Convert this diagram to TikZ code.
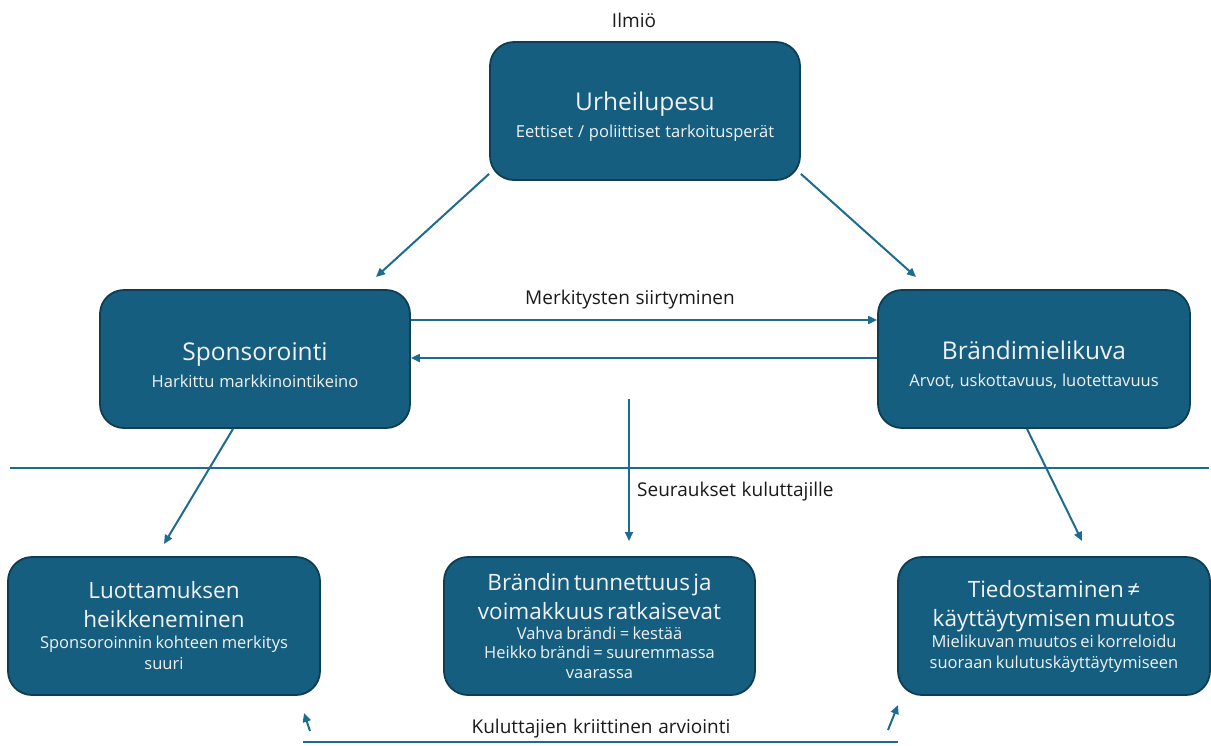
\documentclass[tikz,border=0pt]{standalone}
\usepackage{fontspec}
\setmainfont[WordSpace=1.15]{Open Sans}
\usetikzlibrary{arrows.meta}
\definecolor{boxfill}{HTML}{165E80}
\definecolor{boxline}{HTML}{0F3D52}
\definecolor{arrowc}{HTML}{1E6B90}
\definecolor{boxtext}{HTML}{F2F2F2}
\definecolor{labeltext}{HTML}{1A1A1A}
\newcommand{\ttlf}{\fontsize{24.5}{29}\selectfont}
\newcommand{\ttlb}{\fontsize{22.5}{29}\selectfont}
\newcommand{\subf}{\fontsize{16.5}{21}\selectfont}
\tikzset{
  card/.style={draw=boxline, line width=1.8pt, fill=boxfill, rounded corners=24pt,
    minimum height=138pt, text=boxtext, align=center, inner sep=4pt},
  topcard/.style={card, font=\subf},
  conn/.style={draw=arrowc, line width=2pt, -{Triangle[length=9pt,width=8pt]}},
  plain/.style={draw=arrowc, line width=2pt},
  lbl/.style={text=labeltext, font=\fontsize{19}{23}\selectfont, inner sep=0pt},
}
\begin{document}
\begin{tikzpicture}[x=1pt,y=-1pt]
\useasboundingbox (0,0) rectangle (1211,745);

\node[lbl] (ilmio) at (634,20) {Ilmiö};

\node[topcard, minimum width=310pt] (top) at (645,111)
  {\rule{0pt}{30pt}{\ttlf Urheilupesu}\\[6pt]Eettiset / poliittiset tarkoitusperät};
\node[topcard, minimum width=310pt] (spons) at (255,359)
  {\rule{0pt}{30pt}{\ttlf Sponsorointi}\\[6pt]Harkittu markkinointikeino};
\node[topcard, minimum width=312pt] (brand) at (1034,359)
  {\rule{0pt}{30pt}{\ttlf Brändimielikuva}\\[6pt]Arvot, uskottavuus, luotettavuus};

\node[card, minimum width=312pt, text width=300pt] (luot) at (164,626)
  {{\ttlb Luottamuksen\\heikkeneminen\par}{\subf Sponsoroinnin kohteen merkitys\\suuri\par}};
\node[card, minimum width=311pt, text width=300pt] (tunn) at (599.5,626)
  {{\ttlb Brändin tunnettuus ja\\voimakkuus ratkaisevat\par}{\fontsize{16.5}{19.5}\selectfont Vahva brändi = kestää\\Heikko brändi = suuremmassa\\vaarassa\par}};
\node[card, minimum width=312pt, text width=300pt] (tied) at (1054,626)
  {{\ttlb Tiedostaminen ≠\\käyttäytymisen muutos\par}{\subf Mielikuvan muutos ei korreloidu\\suoraan kulutuskäyttäytymiseen\par}};

% top arrows
\coordinate (tl) at (376,277);
\coordinate (tr) at (916,277);
\draw[conn] ([yshift=7pt]top.south west) -- (tl);
\draw[conn] ([yshift=7pt]top.south east) -- (tr);

% transfer of meanings
\draw[conn] ([yshift=39pt]spons.east) -- ([yshift=39pt]brand.west);
\draw[conn] ([yshift=1pt]brand.west) -- ([yshift=1pt]spons.east);
\node[lbl] (merk) at (630,300) {Merkitysten siirtyminen};

% divider
\coordinate (divL) at (10,468);
\coordinate (divR) at (1209,468);
\draw[plain] (divL) -- (divR);

% consequences arrow
\coordinate (vtop) at (629,399);
\coordinate (vbot) at (629,541);
\draw[conn] (vtop) -- (vbot);
\node[lbl, anchor=west] (seur) at (637,492) {Seuraukset kuluttajille};

% diagonal arrows down
\coordinate (ll) at (164,544);
\coordinate (rr) at (1082,541);
\draw[conn] ([xshift=-22pt]spons.south) -- (ll);
\draw[conn] ([xshift=-7pt]brand.south) -- (rr);

% bottom critical evaluation
\coordinate (bL) at (303,742);
\coordinate (bR) at (898,742);
\draw[plain] (bL) -- (bR);
\coordinate (a1s) at (310,731);
\coordinate (a1e) at (304,713);
\coordinate (a2s) at (888,730);
\coordinate (a2e) at (898,705);
\draw[conn] (a1s) -- (a1e);
\draw[conn] (a2s) -- (a2e);
\node[lbl] (kulu) at (601,729) {Kuluttajien kriittinen arviointi};
\end{tikzpicture}
\end{document}
